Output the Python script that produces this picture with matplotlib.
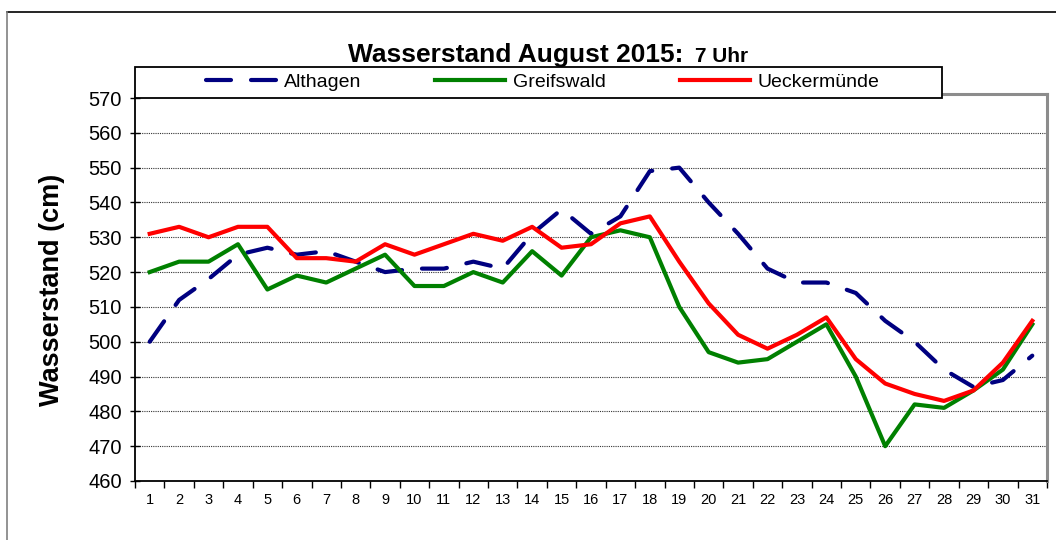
import numpy as np
import matplotlib.pyplot as plt
from matplotlib.patches import Rectangle
from matplotlib.lines import Line2D

plt.rcParams['font.family'] = ['Liberation Sans', 'DejaVu Sans']

# Data (Wasserstand in cm, 7 Uhr)
days = list(range(1, 32))
althagen = [500, 512, 518, 525, 527, 525, 526, 523, 520, 521, 521, 523, 521, 531, 538, 531,
            536, 549, 550, 540, 531, 521, 517, 517, 514, 506, 500, 492, 487, 489, 496]
greifswald = [520, 523, 523, 528, 515, 519, 517, 521, 525, 516, 516, 520, 517, 526, 519, 530,
              532, 530, 510, 497, 494, 495, 500, 505, 490, 470, 482, 481, 486, 492, 505]
ueckermuende = [531, 533, 530, 533, 533, 524, 524, 523, 528, 525, 528, 531, 529, 533, 527, 528,
                534, 536, 523, 511, 502, 498, 502, 507, 495, 488, 485, 483, 486, 494, 506]
yticks = list(range(460, 571, 10))

W, H = 1056, 540
fig = plt.figure(figsize=(W / 100, H / 100), dpi=100)

# plot area in pixel coords
L, R, T, B = 135, 1047, 94, 481
ax = fig.add_axes([L / W, 1 - B / H, (R - L) / W, (B - T) / H])

lw = 3.0
ax.plot(days, althagen, color='#000080', lw=lw, dashes=(6.0, 4.8),
        dash_capstyle='round', solid_capstyle='round', label='Althagen', zorder=3)
ax.plot(days, greifswald, color='#008000', lw=lw, label='Greifswald', zorder=3)
ax.plot(days, ueckermuende, color='#FF0000', lw=lw, label='Ueckermünde', zorder=4)

ax.set_xlim(0.5, 31.5)
top = 570 + (98 - T) / (B - 98) * 110
ax.set_ylim(460, top)
ax.set_yticks(yticks)
ax.set_yticklabels([str(v) for v in yticks], fontsize=14.5)
for v in yticks[1:-1]:
    ax.axhline(v, color='#333333', lw=0.8, ls=(0, (1, 1)), zorder=1)

ax.set_xticks(np.arange(0.5, 32, 1))
ax.set_xticklabels([])
ax.set_xticks(days, minor=True)
ax.set_xticklabels([str(d) for d in days], minor=True, fontsize=10.5)
ax.tick_params(axis='x', which='major', length=5, width=1, direction='out')
ax.tick_params(axis='x', which='minor', length=0, pad=9)
ax.tick_params(axis='y', length=7, width=1, direction='inout', pad=6)

for s in ['left', 'bottom']:
    ax.spines[s].set_color('black')
    ax.spines[s].set_linewidth(1.3)
for s in ['top', 'right']:
    ax.spines[s].set_color('#8c8c8c')
    ax.spines[s].set_linewidth(2.2)

fig.text(52 / W, 1 - 290 / H, 'Wasserstand (cm)', rotation=90, fontsize=19.5,
         fontweight='bold', ha='center', va='center')

# title
t1 = fig.text(348 / W, 1 - 62 / H, 'Wasserstand August 2015:', fontsize=19,
              fontweight='bold', ha='left', va='baseline')
fig.text(695 / W, 1 - 62 / H, '7 Uhr', fontsize=15, fontweight='bold',
         ha='left', va='baseline')

# legend box
fig.add_artist(Rectangle((135 / W, 1 - 98 / H), (942 - 135) / W, 31 / H,
                         transform=fig.transFigure, facecolor='white',
                         edgecolor='black', lw=1.3, zorder=5))
handles, labels = ax.get_legend_handles_labels()
leg = fig.legend(handles, labels, loc='center', bbox_to_anchor=(543 / W, 1 - 82.5 / H),
                 ncol=3, frameon=False, fontsize=14, handlelength=3.6,
                 columnspacing=3.8, handletextpad=0.4)
leg.set_zorder(6)

# outer chart border
fig.add_artist(Line2D([7 / W, 1], [1 - 12 / H, 1 - 12 / H], transform=fig.transFigure,
                      color='black', lw=1.2))
fig.add_artist(Line2D([7 / W, 7 / W], [0, 1 - 12 / H], transform=fig.transFigure,
                      color='#808080', lw=1.2))

fig.savefig('out.png', dpi=100)
